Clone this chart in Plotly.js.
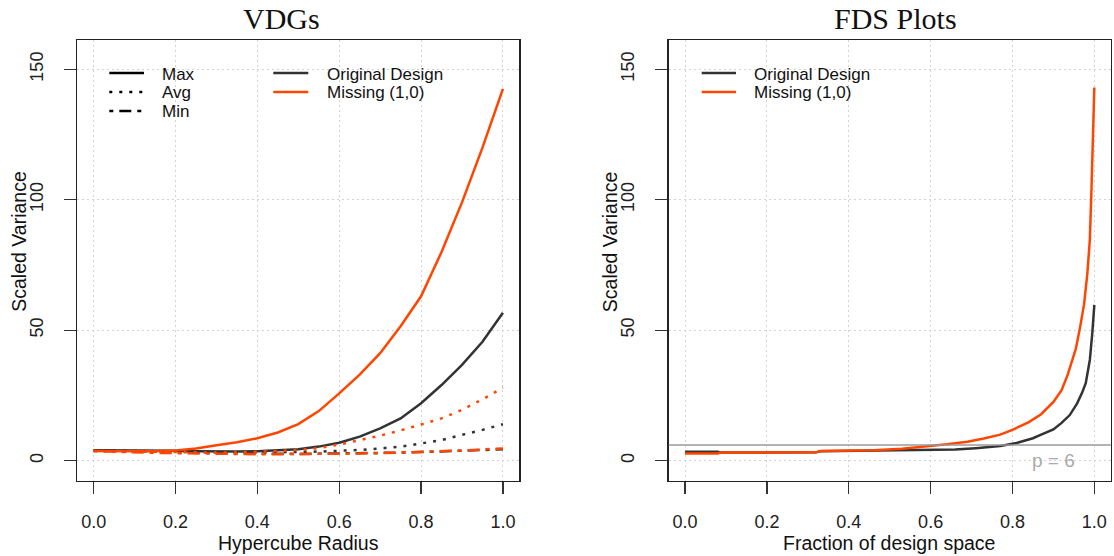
<!DOCTYPE html>
<html><head><meta charset="utf-8">
<script src="https://cdn.plot.ly/plotly-3.0.1.min.js"></script>
<style>html,body{margin:0;padding:0;background:#fff;}#chart{width:1114px;height:556px;}</style>
</head><body><div id="chart"></div>
<script>
// ---- data ----
const radius = [0,0.05,0.1,0.15,0.2,0.25,0.3,0.35,0.4,0.45,0.5,0.55,0.6,0.65,0.7,0.75,0.8,0.85,0.9,0.95,1.0];
const origMax = [4.0,4.0,4.0,3.95,3.8,3.6,3.5,3.5,3.6,3.9,4.4,5.4,6.9,9.2,12.4,16.2,22.0,29.0,36.7,45.6,56.7];
const origAvg = [4.0,3.85,3.7,3.5,3.3,3.2,3.1,3.1,3.1,3.2,3.3,3.5,3.8,4.1,4.7,5.4,6.6,7.9,9.9,11.8,14.0];
const origMin = [4.0,3.75,3.6,3.4,3.2,3.05,2.9,2.8,2.7,2.65,2.6,2.65,2.7,2.8,2.9,3.1,3.3,3.5,3.8,4.1,4.4];
const missMax = [3.7,3.7,3.65,3.6,3.9,4.7,5.9,7.1,8.6,10.8,14.0,19.0,25.8,33.0,41.2,51.5,63.0,80.0,99.0,120.0,142.5];
const missAvg = [3.7,3.6,3.5,3.3,3.2,3.1,3.1,3.2,3.4,3.7,4.1,4.8,6.2,7.8,9.6,11.6,13.8,16.2,19.5,23.5,28.0];
const missMin = [3.7,3.4,3.2,3.0,2.9,2.75,2.6,2.55,2.5,2.5,2.5,2.55,2.6,2.75,2.9,3.1,3.3,3.6,3.9,4.3,4.7];

const fdsFracOrig = [0,0.08,0.09,0.32,0.33,0.46,0.55,0.61,0.66,0.71,0.77,0.81,0.85,0.87,0.90,0.92,0.94,0.958,0.97,0.979,0.989,0.995,1.0];
const fdsOrig     = [3.4,3.4,3.1,3.2,3.6,3.8,3.9,4.1,4.3,4.8,5.6,6.8,8.6,10.0,12.0,14.5,17.5,22.0,26.0,29.7,38.6,48.8,59.7];
const fdsFracMiss = [0,0.08,0.085,0.32,0.33,0.46,0.53,0.58,0.64,0.69,0.73,0.77,0.80,0.84,0.87,0.90,0.92,0.935,0.955,0.965,0.975,0.983,0.989,0.993,0.996,1.0];
const fdsMiss     = [2.8,2.8,3.1,3.2,3.7,4.0,4.6,5.3,6.3,7.3,8.5,10.0,11.8,14.8,17.8,22.5,27.0,33.0,43.0,51.0,60.0,71.8,84.6,103.8,123.6,143.0];

const xTicks = [0,0.2,0.4,0.6,0.8,1.0];
const xTickText = ['0.0','0.2','0.4','0.6','0.8','1.0'];
const yTicks = [0,50,100,150];
const pRef = 6;

// ---- layout helpers ----
const W = 1114, H = 556;
const px = x => x / W, py = y => 1 - y / H;
const BLACK = '#333333', ORANGE = '#FF4500';
const SANS = 'Liberation Sans, Arial, sans-serif';
const SERIF = 'Liberation Serif, Times New Roman, serif';
const DOT = '3px,7px', DASHDOT = '4px,6px,12px,6px';
const LW = 2.5;

function line(x, y, color, dash, xa, ya) {
  return {x: x, y: y, type: 'scatter', mode: 'lines', xaxis: xa, yaxis: ya,
          line: {color: color, width: LW, dash: dash}, showlegend: false, hoverinfo: 'skip'};
}
const traces = [
  line(radius, origMax, BLACK, 'solid', 'x', 'y'),
  line(radius, origAvg, BLACK, DOT, 'x', 'y'),
  line(radius, origMin, BLACK, DASHDOT, 'x', 'y'),
  line(radius, missMax, ORANGE, 'solid', 'x', 'y'),
  line(radius, missAvg, ORANGE, DOT, 'x', 'y'),
  line(radius, missMin, ORANGE, DASHDOT, 'x', 'y'),
  line(fdsFracOrig, fdsOrig, BLACK, 'solid', 'x2', 'y2'),
  line(fdsFracMiss, fdsMiss, ORANGE, 'solid', 'x2', 'y2')
];

function xaxis(d0, d1, anchor) {
  return {domain: [px(d0), px(d1)], range: [-0.04, 1.04], anchor: anchor,
    tickvals: xTicks, ticktext: xTickText, showgrid: true, gridcolor: '#d3d3d3', gridwidth: 1, griddash: '2px,3px',
    zeroline: false, showline: true, mirror: true, linecolor: '#222', linewidth: 1.5,
    ticks: 'outside', ticklen: 12, tickwidth: 1.2, tickcolor: '#333',
    tickfont: {family: SANS, size: 18, color: '#222'}, ticklabelstandoff: 12};
}
function yaxis(anchor) {
  return {domain: [py(480.7), py(40)], range: [-7.665, 161.23], anchor: anchor,
    tickvals: yTicks, tickangle: -90, showgrid: true, gridcolor: '#d3d3d3', gridwidth: 1, griddash: '2px,3px',
    zeroline: false, showline: true, mirror: true, linecolor: '#222', linewidth: 1.5,
    ticks: 'outside', ticklen: 12, tickwidth: 1.2, tickcolor: '#333',
    tickfont: {family: SANS, size: 18, color: '#222'}, ticklabelstandoff: 14};
}

function txt(text, x, y, opts) {
  return Object.assign({text: text, x: px(x), y: py(y), xref: 'paper', yref: 'paper', showarrow: false,
    xanchor: 'center', yanchor: 'middle', font: {family: SANS, size: 19.5, color: '#111'}}, opts || {});
}
const LGF = {family: SANS, size: 17, color: '#111'};
function lg(x0, x1, y, color, dash) {
  return {type: 'line', xref: 'paper', yref: 'paper', x0: px(x0), x1: px(x1), y0: py(y), y1: py(y),
          line: {color: color, width: LW, dash: dash}};
}
const R1 = 73, R2 = 92, R3 = 111;

const annotations = [
  txt('VDGs', 281, 18, {font: {family: SERIF, size: 30, color: '#111'}}),
  txt('FDS Plots', 895, 18, {font: {family: SERIF, size: 30, color: '#111'}}),
  txt('Hypercube Radius', 298, 543),
  txt('Fraction of design space', 889, 543),
  txt('Scaled Variance', 18.3, 241.5, {textangle: -90}),
  txt('Scaled Variance', 609.7, 241.5, {textangle: -90}),
  txt('Max', 160, R1 + 1, {xanchor: 'left', font: LGF}),
  txt('Avg', 160, R2 + 1, {xanchor: 'left', font: LGF}),
  txt('Min', 160, R3 + 1, {xanchor: 'left', font: LGF}),
  txt('Original Design', 325, R1 + 1, {xanchor: 'left', font: LGF}),
  txt('Missing (1,0)', 325, R2 + 1, {xanchor: 'left', font: LGF}),
  txt('Original Design', 751.7, R1 + 1, {xanchor: 'left', font: LGF}),
  txt('Missing (1,0)', 751.7, R2 + 1, {xanchor: 'left', font: LGF}),
  {text: 'p = 6', x: 0.9, y: 0, xref: 'x2', yref: 'y2', showarrow: false, xanchor: 'center', yanchor: 'middle',
   font: {family: SANS, size: 19, color: '#aaaaaa'}}
];

const shapes = [
  lg(109.3, 144, R1, '#000', 'solid'),
  lg(109.3, 144, R2, '#000', DOT),
  lg(109.3, 144, R3, '#000', DASHDOT),
  lg(273.3, 308.3, R1, BLACK, 'solid'),
  lg(273.3, 308.3, R2, ORANGE, 'solid'),
  lg(701.7, 736, R1, BLACK, 'solid'),
  lg(701.7, 736, R2, ORANGE, 'solid'),
  {type: 'line', xref: 'x2 domain', yref: 'y2', x0: 0, x1: 1, y0: pRef, y1: pRef,
   line: {color: '#9a9a9a', width: 1.5}}
];

const layout = {
  width: W, height: H, margin: {l: 0, r: 0, t: 0, b: 0, pad: 0},
  paper_bgcolor: '#fff', plot_bgcolor: '#fff',
  xaxis: xaxis(77.3, 519.3, 'y'), yaxis: yaxis('x'),
  xaxis2: xaxis(668.7, 1110.7, 'y2'), yaxis2: yaxis('x2'),
  annotations: annotations, shapes: shapes, showlegend: false
};
Plotly.newPlot('chart', traces, layout, {displayModeBar: false, staticPlot: true});
</script>
</body></html>
